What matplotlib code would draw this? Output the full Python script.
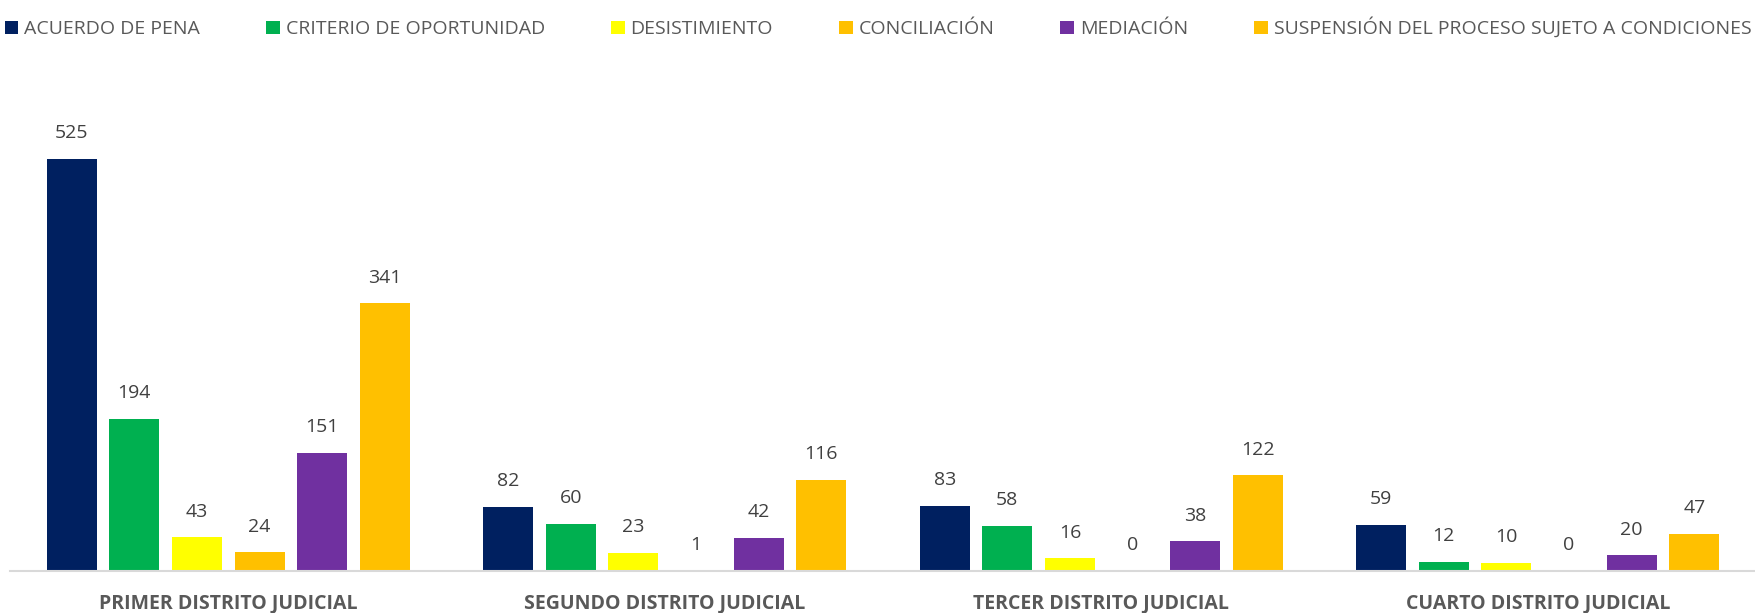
import numpy as np
import matplotlib.pyplot as plt

plt.rcParams['font.family'] = ['Open Sans', 'DejaVu Sans']

# datos
distritos = ['PRIMER DISTRITO JUDICIAL', 'SEGUNDO DISTRITO JUDICIAL',
             'TERCER DISTRITO JUDICIAL', 'CUARTO DISTRITO JUDICIAL']
series = ['ACUERDO DE PENA', 'CRITERIO DE OPORTUNIDAD', 'DESISTIMIENTO',
          'CONCILIACIÓN', 'MEDIACIÓN', 'SUSPENSIÓN DEL PROCESO SUJETO A CONDICIONES']
acuerdo = [525, 82, 83, 59]
criterio = [194, 60, 58, 12]
desistimiento = [43, 23, 16, 10]
conciliacion = [24, 1, 0, 0]
mediacion = [151, 42, 38, 20]
suspension = [341, 116, 122, 47]
colores = ['#002060', '#00B050', '#FFFF00', '#FFC000', '#7030A0', '#FFC000']

valores = [acuerdo, criterio, desistimiento, conciliacion, mediacion, suspension]

fig = plt.figure(figsize=(17.56, 6.13), dpi=100)
ax = fig.add_axes([0.0057, 0.0685, 0.9943, 0.768])

x = np.arange(len(distritos))
paso = 0.1435
ancho = 0.1144
for i, (nombre, vals, c) in enumerate(zip(series, valores, colores)):
    pos = x + (i - 2.5) * paso
    barras = ax.bar(pos, vals, width=ancho, color=c, label=nombre, zorder=2)
    ax.bar_label(barras, padding=12, fontsize=14, color='#404040')

ax.set_xlim(-0.5, 3.5)
ax.set_ylim(0, 600)
ax.set_yticks([])
ax.set_xticks(x)
ax.set_xticklabels(distritos, fontsize=14, fontweight='bold', color='#595959')
ax.tick_params(axis='x', length=0, pad=16)
for s in ['top', 'right', 'left']:
    ax.spines[s].set_visible(False)
ax.spines['bottom'].set_color('#D9D9D9')
ax.spines['bottom'].set_linewidth(1.5)

fig.legend(loc='upper center', bbox_to_anchor=(0.5, 1.0), ncol=6, frameon=False,
           fontsize=14, handlelength=0.7, handleheight=0.7, handletextpad=0.3,
           columnspacing=3.4, labelcolor='#595959')

fig.savefig('out.png', dpi=100)
